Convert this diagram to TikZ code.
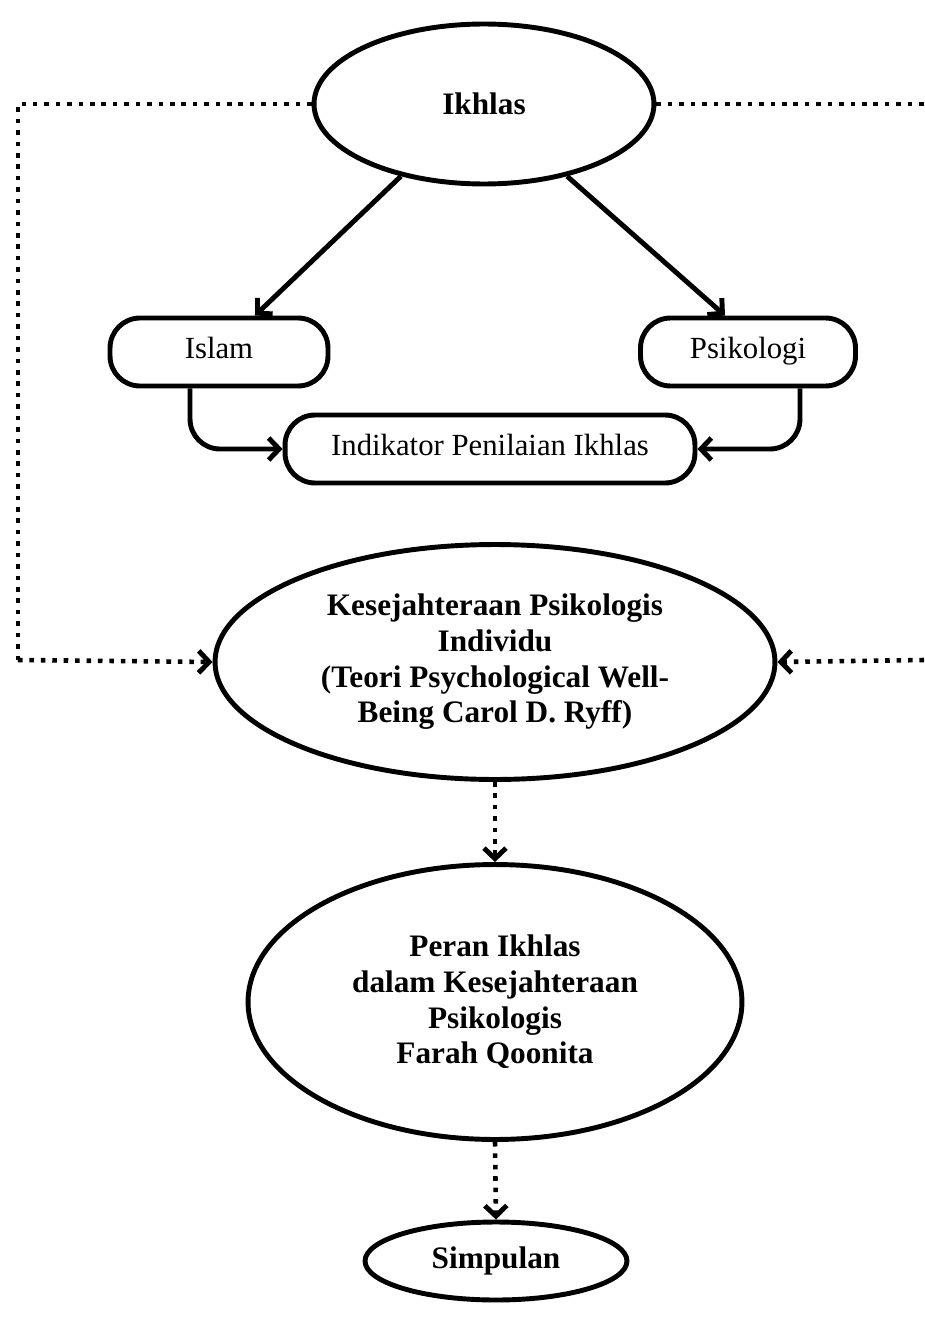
\documentclass[tikz,border=0pt]{standalone}
\usepackage{fontspec}
\setmainfont{Liberation Serif}
\usepackage{tikz}
\usetikzlibrary{arrows.meta,shapes.geometric}

\begin{document}
\begin{tikzpicture}[x=0.02cm,y=-0.02cm]
\tikzstyle{every path}=[line width=2.8pt]
\tikzstyle{ellipsenode}=[draw,ellipse,inner sep=0pt,align=center,font=\fontsize{17.8}{20.3}\selectfont\bfseries]
\tikzstyle{pillbox}=[draw,rectangle,rounded corners=0.6cm,inner sep=0pt,text height=12pt,text depth=5pt,font=\fontsize{17.5}{20}\selectfont]
\tikzstyle{dotline}=[line width=2.6pt,dash pattern=on 2.6pt off 3.9pt]
\tikzset{>={Straight Barb[length=6pt,width=12.5pt,line width=2.8pt]}}

\useasboundingbox (0,0) rectangle (924,1335);

% nodes
\node [ellipsenode,minimum width=6.8cm,minimum height=3.2cm] (ikhlas) at (484,104) {Ikhlas};
\node [pillbox,minimum width=4.36cm,minimum height=1.36cm] (islam) at (219,352) {Islam};
\node [pillbox,minimum width=4.3cm,minimum height=1.36cm] (psikologi) at (748,352) {Psikologi};
\node [pillbox,minimum width=8.2cm,minimum height=1.36cm] (indikator) at (490,449) {Indikator Penilaian Ikhlas};
\node [ellipsenode,minimum width=11.2cm,minimum height=4.7cm] (sejahtera) at (495,662)
    {Kesejahteraan Psikologis\\Individu\\(Teori Psychological Well-\\Being Carol D. Ryff)};
\node [ellipsenode,minimum width=9.88cm,minimum height=5.5cm] (peran) at (495,1002)
    {Peran Ikhlas\\dalam Kesejahteraan\\Psikologis\\Farah Qoonita};
\node [ellipsenode,minimum width=5.24cm,minimum height=1.56cm] (simpulan) at (496,1261) {Simpulan};

\coordinate (lt) at (18,104);
\coordinate (lb) at (18,660);
\coordinate (rt) at (924,104);
\coordinate (rb) at (924,660);

% solid connectors
\draw[->] (ikhlas.-139) -- ([xshift=0.72cm]islam.north);
\draw[->] (ikhlas.-41) -- ([xshift=-0.46cm]psikologi.north);
\draw[->,rounded corners=0.6cm] ([xshift=-0.58cm]islam.south) |- (indikator.west);
\draw[->,rounded corners=0.6cm] ([xshift=1.04cm]psikologi.south) |- (indikator.east);

% dotted connectors
\draw[dotline] (ikhlas.west) -- (lt) -- (lb);
\draw[->,dotline] (lb) -- (sejahtera.west);
\draw[dotline] (ikhlas.east) -- (rt);
\draw[->,dotline] (rb) -- (sejahtera.east);
\draw[->,dotline] (sejahtera.south) -- (peran.north);
\draw[->,dotline] (peran.south) -- (simpulan.north);
\end{tikzpicture}
\end{document}
